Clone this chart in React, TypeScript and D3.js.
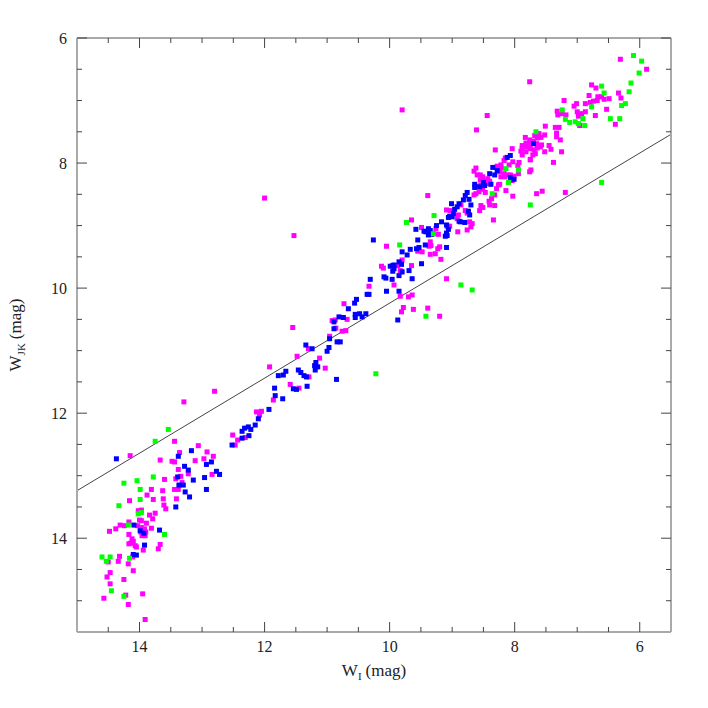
import { useEffect, useRef } from 'react'
import * as d3 from 'd3'

type Pt = [number, number] // [W_I, W_JK] in mag

const magentaPts: Pt[] = [
  [13.29, 11.82], [13.44, 12.45], [13.06, 12.52], [12.92, 12.62], [13.36, 12.63], [14.15, 12.68],
  [12.82, 12.69], [12.97, 12.73], [13.67, 12.75], [13.48, 12.77], [13.44, 12.78], [13.11, 12.76],
  [13.38, 12.9], [13.22, 12.97], [12.84, 12.98], [13.34, 13.01], [13.6, 13.06], [13.42, 13.05],
  [13.32, 13.11], [13.38, 13.22], [13.44, 13.22], [13.81, 13.22], [13.63, 13.24], [13.88, 13.31],
  [13.78, 13.38], [13.62, 13.37], [13.41, 13.37], [14.16, 13.4], [13.61, 13.47], [13.75, 13.6],
  [13.58, 13.53], [14.02, 13.56], [13.97, 13.55], [13.84, 13.63], [13.79, 13.69], [14.0, 13.71],
  [13.97, 13.72], [14.17, 13.74], [14.31, 13.79], [14.24, 13.8], [14.03, 13.8], [13.89, 13.76],
  [13.97, 13.83], [13.92, 13.85], [13.81, 13.84], [14.38, 13.85], [14.48, 13.89], [13.98, 13.9],
  [13.9, 13.9], [14.17, 13.94], [13.96, 13.96], [13.91, 13.96], [14.12, 14.01], [14.1, 14.05],
  [14.14, 14.08], [14.07, 14.12], [14.05, 14.14], [14.17, 14.09], [13.67, 14.1], [13.7, 14.17],
  [13.94, 14.19], [14.11, 14.3], [14.5, 14.38], [14.32, 14.29], [14.34, 14.37], [14.18, 14.41],
  [14.1, 14.52], [14.47, 14.55], [14.52, 14.62], [14.25, 14.66], [14.47, 14.73], [13.95, 14.89],
  [14.22, 14.91], [14.57, 14.96], [14.18, 15.06], [13.91, 15.3],
  [12.0, 8.56], [11.53, 9.16], [11.55, 10.63], [12.8, 11.65], [11.92, 11.26], [11.48, 11.09],
  [11.3, 10.97], [11.12, 11.12], [10.96, 10.77], [10.76, 10.69], [10.7, 10.68], [10.86, 10.64],
  [10.92, 10.52], [10.87, 10.51], [10.68, 10.5], [10.73, 10.25], [10.33, 9.97], [11.03, 11.28],
  [11.29, 11.42], [11.59, 11.54], [11.45, 11.6], [11.86, 11.79], [12.13, 11.98], [12.05, 11.97],
  [12.08, 12.03], [12.51, 12.35], [12.31, 12.39], [12.43, 12.43], [12.47, 12.51],
  [9.39, 8.52], [8.86, 8.67], [9.09, 8.75], [9.03, 8.76], [8.9, 8.83], [8.92, 8.89], [8.72, 8.94],
  [8.68, 8.97], [8.7, 9.02], [8.76, 9.07], [8.91, 9.1], [9.26, 9.05], [9.22, 9.14], [9.04, 9.01],
  [9.08, 9.01], [9.65, 8.91], [9.49, 9.03], [9.35, 9.26], [9.34, 9.32], [9.37, 9.33], [9.2, 9.34],
  [9.23, 9.37], [9.55, 9.41], [9.48, 9.42], [9.35, 9.46], [9.27, 9.45], [9.18, 9.54], [10.05, 9.33],
  [9.8, 9.55], [9.87, 9.64], [10.13, 9.65], [10.1, 9.68], [9.65, 9.64], [9.83, 9.72], [9.81, 9.74],
  [9.93, 9.95], [9.09, 9.85], [9.83, 10.13], [9.7, 10.14], [9.64, 10.11], [9.78, 10.31],
  [9.81, 10.38], [9.62, 10.34], [9.39, 10.32], [9.2, 10.45], [7.76, 6.7], [9.8, 7.15],
  [8.44, 7.24], [8.61, 7.47], [7.51, 7.41], [7.68, 7.56], [7.61, 7.53], [7.58, 7.59], [7.52, 7.55],
  [7.64, 7.6], [7.83, 7.59], [7.76, 7.63], [7.7, 7.65], [7.65, 7.69], [7.57, 7.71], [7.59, 7.74],
  [7.82, 7.68], [7.77, 7.7], [7.88, 7.72], [7.81, 7.74], [7.88, 7.77], [7.75, 7.77], [7.64, 7.76],
  [7.69, 7.79], [7.45, 7.72], [7.42, 7.78], [7.52, 7.82], [8.04, 7.77], [8.31, 7.79], [7.9, 7.81],
  [7.82, 7.82], [7.88, 7.87], [7.71, 7.87], [7.67, 7.85], [7.75, 7.94], [8.15, 7.92], [8.03, 7.98],
  [8.09, 8.03], [8.17, 7.96], [8.22, 8.03], [8.21, 8.08], [8.28, 8.05], [7.93, 7.99], [7.95, 8.04],
  [7.94, 8.17], [8.01, 8.21], [8.04, 8.28], [7.74, 8.11], [7.76, 8.14], [7.75, 7.95], [8.07, 8.19],
  [8.11, 8.19], [8.24, 8.14], [8.17, 8.17], [8.22, 8.22], [8.16, 8.22], [8.62, 8.08], [8.65, 8.13],
  [8.6, 8.19], [8.55, 8.19], [8.51, 8.22], [8.55, 8.27], [8.43, 8.25], [8.4, 8.29], [8.47, 8.29],
  [8.42, 8.33], [8.6, 8.37], [8.54, 8.35], [8.51, 8.42], [8.47, 8.47], [8.57, 8.46], [8.62, 8.49],
  [8.65, 8.51], [8.26, 8.35], [8.29, 8.41], [8.24, 8.34], [8.14, 8.44], [8.03, 8.53], [8.32, 8.51],
  [8.37, 8.57], [8.41, 8.61], [8.4, 8.67], [8.32, 8.68], [8.54, 8.68], [8.56, 8.76], [8.51, 8.71],
  [8.79, 8.76], [8.76, 8.8], [8.34, 8.91], [7.65, 8.49], [7.56, 8.45],
  [6.31, 6.34], [5.89, 6.5], [6.34, 6.88], [6.3, 6.96], [6.77, 6.75], [6.7, 6.8], [6.81, 6.92],
  [6.67, 6.94], [6.61, 6.94], [6.57, 6.98], [6.49, 6.97], [6.68, 7.0], [6.74, 7.01], [6.79, 7.03],
  [6.87, 7.05], [6.53, 7.14], [6.39, 7.38], [6.71, 7.24], [7.21, 7.0], [7.01, 7.05], [7.05, 7.09],
  [6.87, 7.18], [6.93, 7.21], [7.0, 7.18], [6.98, 7.25], [7.32, 7.17], [7.31, 7.23], [7.24, 7.21],
  [7.18, 7.23], [6.96, 7.4], [7.35, 7.43], [7.29, 7.43], [7.33, 7.52], [7.33, 7.58], [7.27, 7.63],
  [7.25, 7.82], [7.38, 7.99], [7.19, 8.47],
]

const bluePts: Pt[] = [
  [14.37, 12.73], [13.38, 12.69], [13.17, 12.6], [12.93, 12.82], [12.85, 12.78], [13.28, 12.85],
  [13.22, 12.91], [12.77, 12.93], [12.72, 12.98], [13.39, 13.02], [12.96, 13.03], [13.14, 13.07],
  [13.37, 13.15], [13.3, 13.15], [13.27, 13.26], [13.2, 13.34], [12.93, 13.22], [13.42, 13.5],
  [14.09, 13.79], [13.68, 13.87], [13.99, 13.88], [13.93, 13.92], [13.92, 14.11], [14.1, 14.26],
  [14.05, 14.27],
  [11.34, 10.91], [11.24, 10.97], [11.0, 11.01], [10.97, 10.95], [10.96, 10.81], [10.84, 10.86],
  [10.79, 10.86], [10.89, 10.65], [10.89, 10.54], [10.81, 10.46], [10.74, 10.47], [10.66, 10.33],
  [10.56, 10.24], [10.53, 10.18], [10.55, 10.42], [10.55, 10.47], [10.48, 10.41], [10.44, 10.46],
  [10.38, 10.41], [10.36, 10.1], [10.33, 10.1], [10.31, 9.86], [11.18, 11.19], [11.2, 11.24],
  [11.15, 11.26], [11.19, 11.31], [10.85, 11.46], [11.46, 11.31], [11.42, 11.35], [11.37, 11.4],
  [11.33, 11.42], [11.78, 11.4], [11.7, 11.39], [11.66, 11.33], [11.54, 11.61], [11.49, 11.62],
  [11.32, 11.57], [11.84, 11.6], [11.83, 11.72], [11.71, 11.77], [11.93, 11.94], [12.1, 12.09],
  [12.15, 12.19], [12.22, 12.26], [12.26, 12.22], [12.32, 12.24], [12.36, 12.29], [12.25, 12.36],
  [12.36, 12.4], [12.52, 12.51],
  [10.26, 9.23], [9.8, 9.42], [9.85, 9.58], [9.81, 9.62], [9.99, 9.65], [9.95, 9.64], [9.93, 9.63],
  [9.93, 9.69], [9.95, 9.73], [9.49, 9.61], [9.69, 9.72], [9.85, 9.8], [9.8, 9.74], [10.09, 9.82],
  [10.06, 9.84], [9.96, 9.86], [9.64, 9.85], [10.05, 10.05], [9.85, 10.05], [9.87, 10.51],
  [9.67, 9.38], [9.57, 9.37], [9.53, 9.35], [9.72, 9.47], [9.43, 9.31], [9.09, 9.35], [9.55, 9.23],
  [9.58, 9.06], [9.17, 8.94], [9.25, 9.0], [9.38, 9.05], [9.45, 9.09], [9.42, 9.1], [9.35, 9.08],
  [9.33, 9.14], [9.38, 9.15], [9.3, 9.13], [9.09, 8.99], [9.06, 9.06], [9.09, 9.12], [9.11, 9.17],
  [9.08, 9.16], [9.01, 8.65], [8.89, 8.65], [8.92, 8.7], [8.96, 8.74], [8.98, 8.81], [9.04, 8.85],
  [9.0, 8.86], [9.06, 8.87], [8.89, 8.93],
  [8.76, 8.47], [8.79, 8.52], [8.82, 8.59], [8.73, 8.58], [8.7, 8.67], [8.74, 8.77], [8.72, 8.83],
  [8.8, 8.95], [8.87, 8.94], [8.64, 8.34], [8.64, 8.39], [8.56, 8.38], [8.48, 8.36], [8.5, 8.31],
  [8.38, 8.34], [8.35, 8.07], [8.28, 8.12], [8.4, 8.17], [8.32, 8.19], [8.07, 8.23], [8.01, 8.26],
  [8.07, 7.88], [8.12, 7.91], [7.7, 7.69],
]

const greenPts: Pt[] = [
  [13.54, 12.26], [13.75, 12.45], [13.78, 13.02], [14.25, 13.12], [14.04, 13.08], [13.99, 13.22],
  [13.99, 13.38], [14.33, 13.48], [14.02, 13.61], [13.97, 13.59], [14.18, 13.79], [13.6, 13.94],
  [14.6, 14.3], [14.47, 14.3], [14.16, 14.32], [14.53, 14.37], [14.45, 14.84], [14.25, 14.93],
  [10.22, 11.37], [9.73, 8.95], [9.29, 8.84], [9.3, 9.13], [9.84, 9.31], [8.86, 9.95], [8.68, 10.03],
  [9.42, 10.45], [7.66, 7.5], [8.14, 8.09], [7.94, 8.11], [8.1, 8.31], [8.36, 8.49], [7.75, 8.67],
  [6.1, 6.28], [5.97, 6.37], [6.01, 6.56], [6.14, 6.72], [6.17, 6.86], [6.23, 7.05], [6.29, 7.08],
  [6.61, 6.77], [6.57, 6.88], [6.77, 7.1], [6.47, 7.29], [6.32, 7.29], [7.24, 7.15], [7.19, 7.3],
  [7.12, 7.35], [7.03, 7.34], [6.98, 7.37], [6.91, 7.29], [6.88, 7.4], [6.61, 8.31],
]

// straight relation drawn across the panel: W_JK = slope * W_I + intercept
const fitSlope = 0.6
const fitIntercept = 4.24

const xDomain: [number, number] = [15, 5.5]
const yDomain: [number, number] = [6, 15.5]
const majorTicks = [6, 8, 10, 12, 14]
const minorTicks = [6.5, 7, 7.5, 8.5, 9, 9.5, 10.5, 11, 11.5, 12.5, 13, 13.5, 14.5, 15]

const FONT = "'Liberation Serif', 'DejaVu Serif', serif"

export default function App() {
  const svgRef = useRef<SVGSVGElement>(null)

  useEffect(() => {
    if (!svgRef.current) return
    const svg = d3.select(svgRef.current)
    svg.selectAll('*').remove()

    const left = 77
    const top = 38
    const size = 594
    const right = left + size
    const bottom = top + size

    const x = d3.scaleLinear().domain(xDomain).range([left, right])
    const y = d3.scaleLinear().domain(yDomain).range([top, bottom])

    svg.append('rect').attr('width', 708).attr('height', 708).attr('fill', '#fff')

    svg.append('clipPath').attr('id', 'plot-clip')
      .append('rect').attr('x', left).attr('y', top).attr('width', size).attr('height', size)

    const plot = svg.append('g').attr('clip-path', 'url(#plot-clip)')

    // fit line
    plot.append('line')
      .attr('x1', x(xDomain[0])).attr('y1', y(fitSlope * xDomain[0] + fitIntercept))
      .attr('x2', x(xDomain[1])).attr('y2', y(fitSlope * xDomain[1] + fitIntercept))
      .attr('stroke', '#444').attr('stroke-width', 1)

    const m = 5
    const drawSet = (pts: Pt[], color: string) => {
      plot.append('g').selectAll('rect')
        .data(pts)
        .join('rect')
        .attr('x', (d) => x(d[0]) - m / 2)
        .attr('y', (d) => y(d[1]) - m / 2)
        .attr('width', m).attr('height', m)
        .attr('fill', color)
    }
    drawSet(magentaPts, '#ff00ff')
    drawSet(bluePts, '#0000ff')
    drawSet(greenPts, '#00ff00')

    // frame
    const frame = svg.append('g')
    frame.append('line').attr('x1', left).attr('x2', right).attr('y1', top).attr('y2', top)
      .attr('stroke', '#555').attr('stroke-width', 1)
    frame.append('line').attr('x1', left).attr('x2', right).attr('y1', bottom).attr('y2', bottom)
      .attr('stroke', '#555').attr('stroke-width', 1)
    frame.append('line').attr('x1', left).attr('x2', left).attr('y1', top).attr('y2', bottom)
      .attr('stroke', '#aaa').attr('stroke-width', 2)
    frame.append('line').attr('x1', right).attr('x2', right).attr('y1', top).attr('y2', bottom)
      .attr('stroke', '#aaa').attr('stroke-width', 2)

    const inX = (v: number) => v > xDomain[1] && v < xDomain[0]
    const inY = (v: number) => v > yDomain[0] && v < yDomain[1]
    const ticks = [
      ...majorTicks.map((v) => ({ v, len: 10 })),
      ...minorTicks.map((v) => ({ v, len: 5 })),
    ]

    const tg = svg.append('g').attr('stroke', '#444').attr('stroke-width', 1)
    ticks.filter((t) => inX(t.v)).forEach((t) => {
      tg.append('line').attr('x1', x(t.v)).attr('x2', x(t.v))
        .attr('y1', bottom).attr('y2', bottom - t.len)
      tg.append('line').attr('x1', x(t.v)).attr('x2', x(t.v))
        .attr('y1', top).attr('y2', top + t.len)
    })
    ticks.filter((t) => inY(t.v) || t.v === yDomain[0]).forEach((t) => {
      tg.append('line').attr('x1', left).attr('x2', left + t.len)
        .attr('y1', y(t.v)).attr('y2', y(t.v))
      tg.append('line').attr('x1', right).attr('x2', right - t.len)
        .attr('y1', y(t.v)).attr('y2', y(t.v))
    })

    // tick labels
    svg.append('g').selectAll('text')
      .data(majorTicks)
      .join('text')
      .attr('x', (d) => x(d)).attr('y', bottom + 20)
      .attr('text-anchor', 'middle')
      .attr('font-family', FONT).attr('font-size', 16).attr('fill', '#222')
      .text((d) => d)

    svg.append('g').selectAll('text')
      .data(majorTicks)
      .join('text')
      .attr('x', left - 10).attr('y', (d) => y(d) + 5.5)
      .attr('text-anchor', 'end')
      .attr('font-family', FONT).attr('font-size', 16).attr('fill', '#222')
      .text((d) => d)

    // axis titles
    const xt = svg.append('text')
      .attr('x', (left + right) / 2).attr('y', 676)
      .attr('text-anchor', 'middle')
      .attr('font-family', FONT).attr('font-size', 17).attr('fill', '#222')
    xt.append('tspan').text('W')
    xt.append('tspan').attr('font-size', 11).attr('dy', 4).text('I')
    xt.append('tspan').attr('dy', -4).attr('dx', 4).text('(mag)')

    const yt = svg.append('text')
      .attr('transform', `translate(21,${(top + bottom) / 2}) rotate(-90)`)
      .attr('text-anchor', 'middle')
      .attr('font-family', FONT).attr('font-size', 17).attr('fill', '#222')
    yt.append('tspan').text('W')
    yt.append('tspan').attr('font-size', 11).attr('dy', 4).text('JK')
    yt.append('tspan').attr('dy', -4).attr('dx', 4).text('(mag)')
  }, [])

  return (
    <svg
      ref={svgRef}
      width={708}
      height={708}
      style={{ position: 'absolute', left: 0, top: 0, display: 'block' }}
    />
  )
}
